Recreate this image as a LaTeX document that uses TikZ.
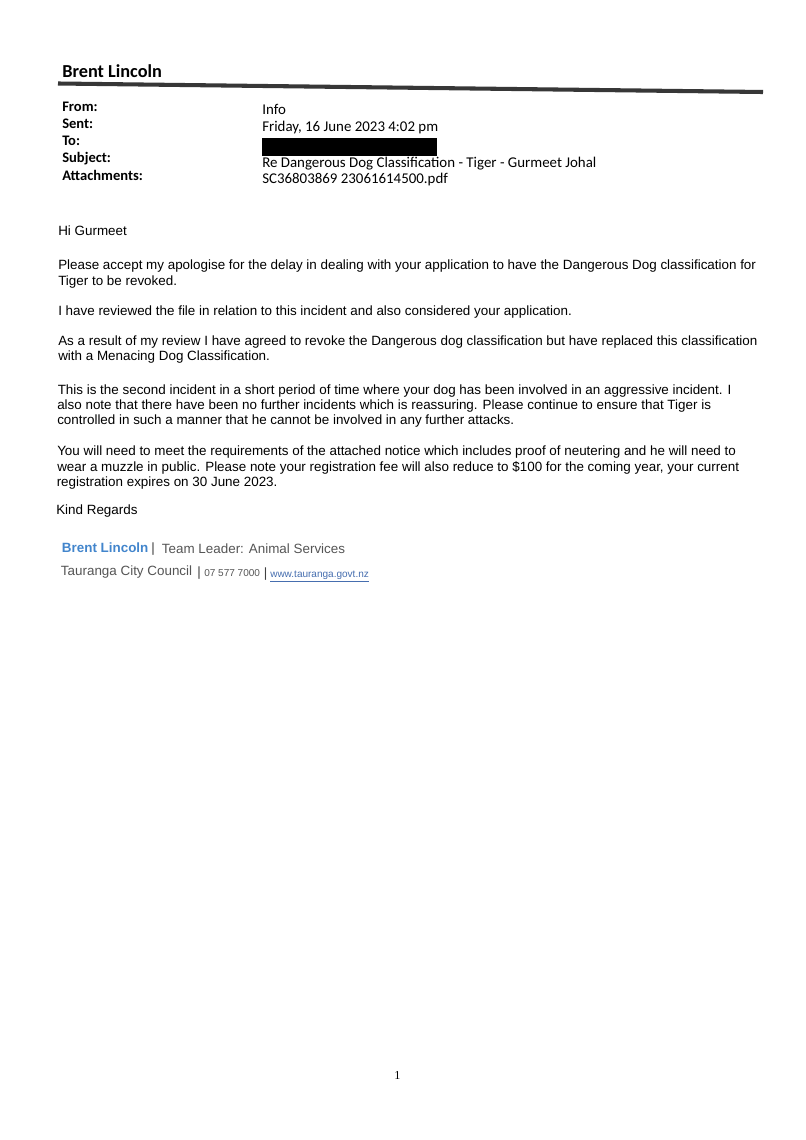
\documentclass[tikz,border=0pt]{standalone}
\usepackage{fontspec}
\newfontfamily\headfont{Carlito}
\newfontfamily\bodyfont{Liberation Sans}
\newfontfamily\pagefont{Liberation Serif}
\definecolor{sigblue}{RGB}{66,133,204}
\definecolor{siggray}{RGB}{85,85,85}
\definecolor{linkblue}{RGB}{70,110,175}
\definecolor{rulegray}{RGB}{55,55,55}

\begin{document}
\begin{tikzpicture}[x=0.7382pt,y=-0.7382pt,
    hdr/.style={anchor=base west,inner sep=0},
    hdrlabel/.style={hdr,font=\labelfontsize\headfont\bfseries},
    hdrvalue/.style={hdr,font=\valuefontsize\headfont},
    bodyline/.style={anchor=base west,inner sep=0,font=\bodyfontsize\bodyfont},
    sigline/.style={bodyline,text=siggray}]
    \pgfmathsetmacro{\labelx}{62}
    \pgfmathsetmacro{\valuex}{262}
    \pgfmathsetmacro{\bodyx}{58}
    \providecommand{\namefontsize}{\fontsize{13.5pt}{16pt}\selectfont}
    \providecommand{\labelfontsize}{\fontsize{10.75pt}{13pt}\selectfont}
    \providecommand{\valuefontsize}{\fontsize{11pt}{13pt}\selectfont}
    \providecommand{\bodyfontsize}{\fontsize{9.9pt}{12pt}\selectfont}
    \providecommand{\smallsigfontsize}{\fontsize{7.4pt}{9pt}\selectfont}
    \fill[white] (0,0) rectangle (806,1140);
    \useasboundingbox (0,0) rectangle (806,1140);
    % header
    \node[hdr,font=\namefontsize\headfont\bfseries] (sendername) at (62,77) {Brent Lincoln};
    \draw[line width=3pt,rulegray] (58,83.5) -- (763,92);
    \node[hdrlabel] (fromlabel) at (\labelx,111) {From:};
    \node[hdrlabel] (sentlabel) at (\labelx,128.3) {Sent:};
    \node[hdrlabel] (tolabel) at (\labelx,145.6) {To:};
    \node[hdrlabel] (subjectlabel) at (\labelx,162.9) {Subject:};
    \node[hdrlabel] (attachlabel) at (\labelx,180.2) {Attachments:};
    \node[hdrvalue] (fromvalue) at (\valuex,114) {Info};
    \node[hdrvalue] (sentvalue) at (\valuex,131.6) {Friday, 16 June 2023 4:02 pm};
    \fill[black] (\valuex,138.3) rectangle (436.5,156);
    \node[hdrvalue] (subjectvalue) at (\valuex,167.3) {Re Dangerous Dog Classification - Tiger - Gurmeet Johal};
    \node[hdrvalue] (attachvalue) at (\valuex,183.6) {SC36803869 23061614500.pdf};
    % body
    \node[bodyline] (greeting) at (\bodyx,235.5) {Hi Gurmeet};
    \node[bodyline] (paraA1) at (\bodyx,269.5) {Please accept my apologise for the delay in dealing with your application to have the Dangerous Dog classification for};
    \node[bodyline] (paraA2) at (\bodyx,285) {Tiger to be revoked.};
    \node[bodyline] (paraB1) at (\bodyx,315.5) {I have reviewed the file in relation to this incident and also considered your application.};
    \node[bodyline] (paraC1) at (\bodyx,345.5) {As a result of my review I have agreed to revoke the Dangerous dog classification but have replaced this classification};
    \node[bodyline] (paraC2) at (\bodyx,360.5) {with a Menacing Dog Classification.};
    \node[bodyline] (paraD1) at (57.5,394) {This is the second incident in a short period of time where your dog has been involved in an aggressive incident. I};
    \node[bodyline] (paraD2) at (57,409.3) {also note that there have been no further incidents which is reassuring. Please continue to ensure that Tiger is};
    \node[bodyline] (paraD3) at (57,424.6) {controlled in such a manner that he cannot be involved in any further attacks.};
    \node[bodyline] (paraE1) at (57,455.7) {You will need to meet the requirements of the attached notice which includes proof of neutering and he will need to};
    \node[bodyline] (paraE2) at (57,471) {wear a muzzle in public. Please note your registration fee will also reduce to \$100 for the coming year, your current};
    \node[bodyline] (paraE3) at (56.5,486.3) {registration expires on 30 June 2023.};
    \node[bodyline] (closing) at (56,514) {Kind Regards};
    % signature
    \node[bodyline,text=sigblue,font=\bodyfontsize\bodyfont\bfseries] (signame) at (61.7,552.2) {Brent Lincoln};
    \node[sigline,text=black!75] (sigbarA) at (151,552.5) {|};
    \node[sigline] (sigrole) at (161.7,553) {Team Leader: Animal Services};
    \node[sigline] (sigcouncil) at (60.7,575.8) {Tauranga City Council};
    \node[sigline,text=black!75] (sigbarB) at (197,576.6) {|};
    \node[sigline,font=\smallsigfontsize\bodyfont] (sigphone) at (204,576.8) {07 577 7000};
    \node[sigline,text=black!75] (sigbarC) at (263.5,577.3) {|};
    \node[sigline,text=linkblue,font=\smallsigfontsize\bodyfont] (siglink) at (270,577.5) {\underline{www.tauranga.govt.nz}};
    % footer
    \node[anchor=base,inner sep=0,font=\fontsize{9pt}{11pt}\pagefont] (pagenum) at (397.5,1079) {1};
\end{tikzpicture}
\end{document}
